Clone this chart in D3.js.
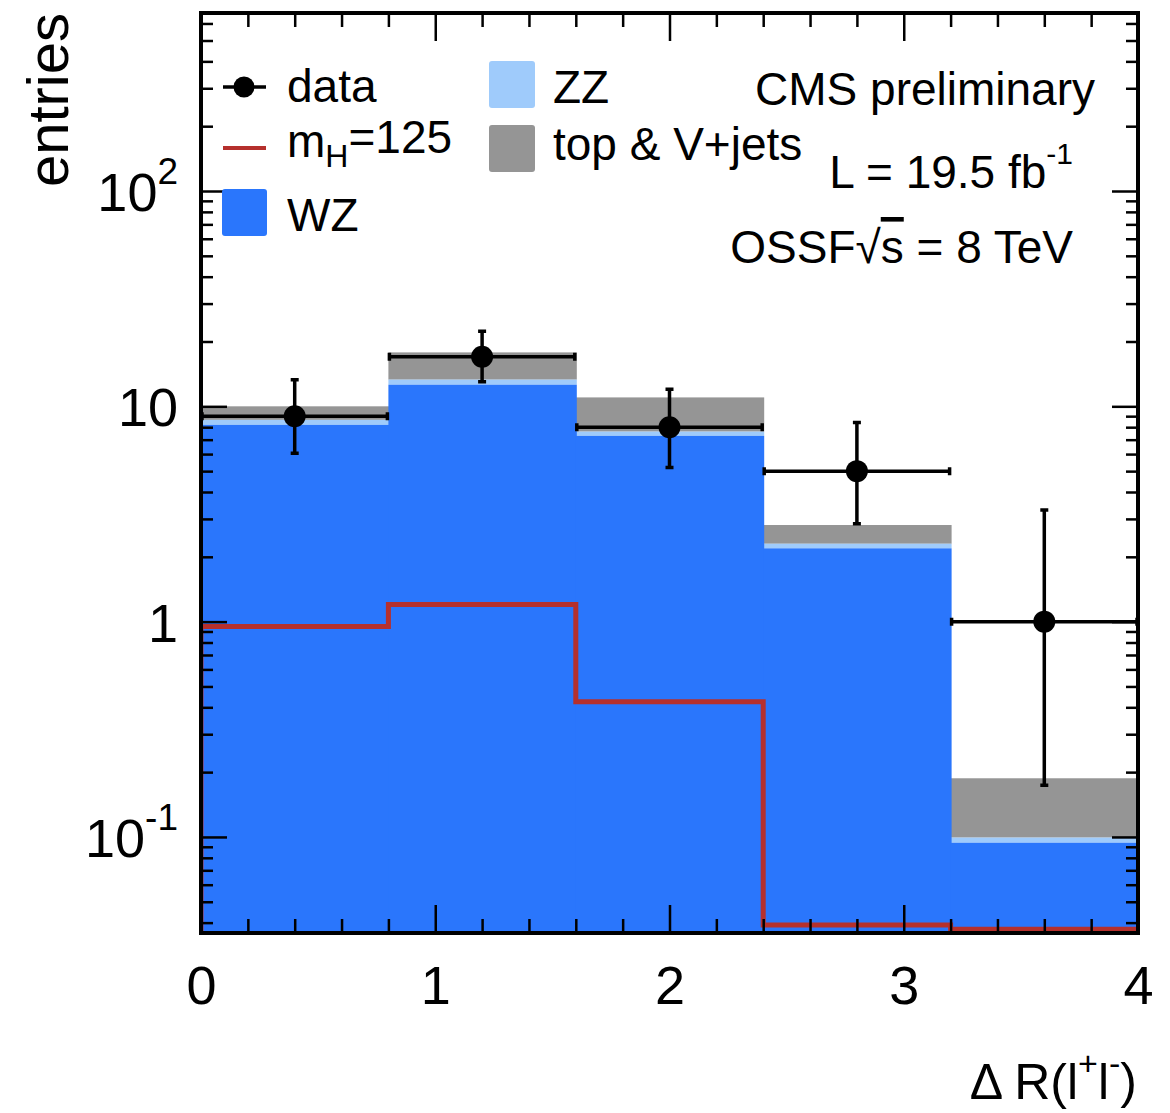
<!DOCTYPE html>
<html>
<head>
<meta charset="utf-8">
<script src="https://cdn.jsdelivr.net/npm/d3@7"></script>
<style>
  body { margin: 0; background: #fff; }
  text { font-family: "Liberation Sans", Arial, Helvetica, sans-serif; fill: #000; }
</style>
</head>
<body>
<div id="container"></div>
<script>
// bin edges in delta R
var edges = [0, 0.8, 1.6, 2.4, 3.2, 4.0];

// stacked backgrounds (per bin)
var wz = [8.2, 12.6, 7.29, 2.19, 0.094];
var zz = [0.45, 0.7, 0.34, 0.11, 0.0053];
var topVjets = [1.35, 4.5, 3.37, 0.51, 0.088];

// higgs signal mH=125
var higgs = [0.95, 1.20, 0.425, 0.039, 0.0373];

// data points
var dataX = [0.4, 1.2, 2.0, 2.8, 3.6];
var dataY = [9, 17, 8, 5, 1];
var dataHi = [13.3, 22.3, 12.0, 8.4, 3.3];
var dataLo = [6.05, 13.0, 5.2, 2.85, 0.174];

// axis ticks
var xTicks = [0, 1, 2, 3, 4];
var yTicks = [0.1, 1, 10, 100];
var yTickBase = ["10", "1", "10", "10"];
var yTickExp = ["-1", "", "", "2"];

var legendNames = ["data", "m", "WZ", "ZZ", "top & V+jets"];
var colors = {wz: "#2a76fc", zz: "#9fcbfb", top: "#959595", higgs: "#b5302d"};

var width = 1170, height = 1113;
var pLeft = 201, pRight = 1138, pTop = 13, pBottom = 933;

var svg = d3.select("#container").append("svg")
    .attr("width", width)
    .attr("height", height);

var x = d3.scaleLinear().domain([0, 4]).range([pLeft, pRight]);
var y = d3.scaleLog().domain([0.0358, 671]).range([pBottom, pTop]);

svg.append("clipPath").attr("id", "plotclip")
  .append("rect")
    .attr("x", pLeft).attr("y", pTop)
    .attr("width", pRight - pLeft).attr("height", pBottom - pTop);

var plot = svg.append("g").attr("clip-path", "url(#plotclip)");

// build stacked bins
var bins = wz.map(function(v, i) {
    return {x0: edges[i], x1: edges[i + 1], wz: v, zz: v + zz[i], tot: v + zz[i] + topVjets[i]};
});

plot.selectAll("rect.top").data(bins).join("rect")
    .attr("class", "top")
    .attr("x", d => x(d.x0))
    .attr("width", d => x(d.x1) - x(d.x0) + 1)
    .attr("y", d => y(d.tot))
    .attr("height", d => y(d.zz) - y(d.tot))
    .attr("fill", colors.top);

plot.selectAll("rect.zz").data(bins).join("rect")
    .attr("class", "zz")
    .attr("x", d => x(d.x0))
    .attr("width", d => x(d.x1) - x(d.x0) + 1)
    .attr("y", d => y(d.zz))
    .attr("height", d => y(d.wz) - y(d.zz))
    .attr("fill", colors.zz);

plot.selectAll("rect.wz").data(bins).join("rect")
    .attr("class", "wz")
    .attr("x", d => x(d.x0))
    .attr("width", d => x(d.x1) - x(d.x0) + 1)
    .attr("y", d => y(d.wz))
    .attr("height", d => pBottom - y(d.wz))
    .attr("fill", colors.wz);

// higgs step line
var hPts = [[edges[0], y.domain()[0]]];
higgs.forEach(function(v, i) {
    hPts.push([edges[i], v]);
    hPts.push([edges[i + 1], v]);
});
plot.append("path")
    .attr("d", d3.line().x(d => x(d[0])).y(d => y(d[1]))(hPts))
    .attr("fill", "none")
    .attr("stroke", colors.higgs)
    .attr("stroke-width", 5);

// data points with errors
var pts = dataX.map(function(v, i) {
    return {x: v, y: dataY[i], hi: dataHi[i], lo: dataLo[i], x0: edges[i], x1: edges[i + 1]};
});
var dg = plot.append("g");
var cap = 4;
dg.selectAll("line.h").data(pts).join("line")
    .attr("x1", d => x(d.x0)).attr("x2", d => x(d.x1))
    .attr("y1", d => y(d.y)).attr("y2", d => y(d.y))
    .attr("stroke", "#000").attr("stroke-width", 3.5);
dg.selectAll("line.v").data(pts).join("line")
    .attr("x1", d => x(d.x)).attr("x2", d => x(d.x))
    .attr("y1", d => y(d.lo)).attr("y2", d => y(d.hi))
    .attr("stroke", "#000").attr("stroke-width", 3.5);
// caps
dg.selectAll("path.cap").data(pts).join("path")
    .attr("d", function(d) {
        var cx = x(d.x), cy = y(d.y);
        return "M" + (cx - cap) + "," + y(d.hi) + "H" + (cx + cap) +
               "M" + (cx - cap) + "," + y(d.lo) + "H" + (cx + cap) +
               "M" + (x(d.x0) + 1) + "," + (cy - cap) + "V" + (cy + cap) +
               "M" + (x(d.x1) - 1) + "," + (cy - cap) + "V" + (cy + cap);
    })
    .attr("stroke", "#000").attr("stroke-width", 3.5).attr("fill", "none");
dg.selectAll("circle").data(pts).join("circle")
    .attr("cx", d => x(d.x)).attr("cy", d => y(d.y))
    .attr("r", 11).attr("fill", "#000");

// ticks (inside, all four sides)
var xMinor = d3.range(0, 4.001, 0.2).filter(v => Math.abs(v - Math.round(v)) > 1e-6);
var yMinor = [];
[0.01, 0.1, 1, 10, 100].forEach(function(dec) {
    for (var k = 2; k <= 9; k++) {
        var v = dec * k;
        if (v > y.domain()[0] && v < y.domain()[1]) yMinor.push(v);
    }
});

function clean(g) { g.select(".domain").remove(); g.selectAll("line").attr("stroke", "#000").attr("stroke-width", 2.5); }

svg.append("g").attr("transform", "translate(0," + pBottom + ")")
    .call(d3.axisBottom(x).tickValues(xTicks).tickSize(-28).tickPadding(33).tickFormat(d3.format("d")))
    .call(clean)
    .call(g => g.selectAll("text").attr("font-size", 54).attr("font-family", "Liberation Sans, Arial, sans-serif"));
svg.append("g").attr("transform", "translate(0," + pBottom + ")")
    .call(d3.axisBottom(x).tickValues(xMinor).tickSize(-14).tickFormat(""))
    .call(clean);
svg.append("g").attr("transform", "translate(0," + pTop + ")")
    .call(d3.axisTop(x).tickValues(xTicks).tickSize(-28).tickFormat(""))
    .call(clean);
svg.append("g").attr("transform", "translate(0," + pTop + ")")
    .call(d3.axisTop(x).tickValues(xMinor).tickSize(-14).tickFormat(""))
    .call(clean);

var yAxisG = svg.append("g").attr("transform", "translate(" + pLeft + ",0)")
    .call(d3.axisLeft(y).tickValues(yTicks).tickSize(-26).tickPadding(22).tickFormat(""))
    .call(clean);
yAxisG.selectAll(".tick text").each(function(d, i) {
    var t = d3.select(this)
        .attr("font-size", 54)
        .attr("font-family", "Liberation Sans, Arial, sans-serif")
        .attr("dy", "0.36em");
    t.append("tspan").text(yTickBase[i]);
    if (yTickExp[i]) {
        t.append("tspan").attr("font-size", 37).attr("dy", "-0.72em").text(yTickExp[i]);
    }
});
yAxisG.selectAll(".tick text").attr("x", -23);
svg.append("g").attr("transform", "translate(" + pLeft + ",0)")
    .call(d3.axisLeft(y).tickValues(yMinor).tickSize(-12).tickFormat(""))
    .call(clean);
svg.append("g").attr("transform", "translate(" + pRight + ",0)")
    .call(d3.axisRight(y).tickValues(yTicks).tickSize(-26).tickFormat(""))
    .call(clean);
svg.append("g").attr("transform", "translate(" + pRight + ",0)")
    .call(d3.axisRight(y).tickValues(yMinor).tickSize(-12).tickFormat(""))
    .call(clean);

// frame
svg.append("rect")
    .attr("x", pLeft).attr("y", pTop)
    .attr("width", pRight - pLeft).attr("height", pBottom - pTop)
    .attr("fill", "none").attr("stroke", "#000").attr("stroke-width", 4);

// axis titles
svg.append("text")
    .attr("transform", "translate(68," + pTop + ") rotate(-90)")
    .attr("text-anchor", "end")
    .attr("font-size", 58)
    .text("entries");

var xt = svg.append("text")
    .attr("x", 1137).attr("y", 1099)
    .attr("text-anchor", "end")
    .attr("font-size", 50);
xt.append("tspan").text("\u0394 R(l");
xt.append("tspan").attr("font-size", 34).attr("dy", "-0.7em").text("+");
xt.append("tspan").attr("dy", "0.47em").text("l");
xt.append("tspan").attr("font-size", 34).attr("dy", "-0.7em").text("-");
xt.append("tspan").attr("dy", "0.47em").text(")");

// legend
var lg = svg.append("g").attr("font-size", 46);
lg.append("line").attr("x1", 223).attr("x2", 266).attr("y1", 87).attr("y2", 87)
    .attr("stroke", "#000").attr("stroke-width", 3.5);
lg.append("circle").attr("cx", 244).attr("cy", 87).attr("r", 10.5).attr("fill", "#000");
lg.append("text").attr("x", 287).attr("y", 102).text(legendNames[0]);

lg.append("line").attr("x1", 223).attr("x2", 266).attr("y1", 148).attr("y2", 148)
    .attr("stroke", colors.higgs).attr("stroke-width", 4);
var mt = lg.append("text").attr("x", 287).attr("y", 157);
mt.append("tspan").text(legendNames[1]);
mt.append("tspan").attr("font-size", 32).attr("dy", "0.32em").text("H");
mt.append("tspan").attr("dy", "-0.32em").text("=125");

lg.append("rect").attr("x", 222).attr("y", 189).attr("width", 45).attr("height", 47)
    .attr("rx", 3).attr("fill", colors.wz);
lg.append("text").attr("x", 287).attr("y", 231).text(legendNames[2]);

lg.append("rect").attr("x", 489).attr("y", 61).attr("width", 46).attr("height", 47)
    .attr("rx", 3).attr("fill", colors.zz);
lg.append("text").attr("x", 553).attr("y", 103).text(legendNames[3]);

lg.append("rect").attr("x", 489).attr("y", 125).attr("width", 46).attr("height", 47)
    .attr("rx", 3).attr("fill", colors.top);
lg.append("text").attr("x", 553).attr("y", 160).text(legendNames[4]);

// labels on the right
var info = svg.append("g").attr("font-size", 46).attr("text-anchor", "end");
info.append("text").attr("x", 1095).attr("y", 105).text("CMS preliminary");
var lt = info.append("text").attr("x", 1073).attr("y", 188);
lt.append("tspan").text("L = 19.5 fb");
lt.append("tspan").attr("font-size", 30).attr("dy", "-0.8em").text("-1");
var ot = info.append("text").attr("x", 1073).attr("y", 263);
ot.append("tspan").text("OSSF\u221A");
ot.append("tspan").style("text-decoration", "overline").text("s");
ot.append("tspan").text(" = 8 TeV");
</script>
</body>
</html>
